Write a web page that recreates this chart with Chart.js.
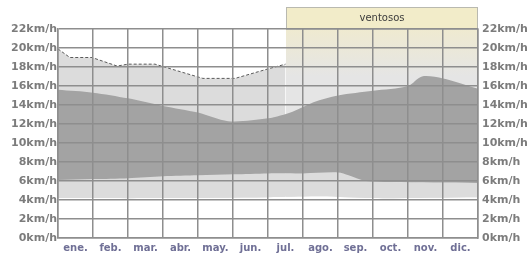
<!DOCTYPE html>
<html>
<head>
  <meta charset="UTF-8">
  <title>Velocidad del viento</title>
  <script src="https://cdn.jsdelivr.net/npm/chart.js"></script>
  <style>
    html, body { margin: 0; padding: 0; background: #fff; }
    #wrap { width: 532px; height: 256px; }
  </style>
</head>
<body>
  <div id="wrap"><canvas id="viento"></canvas></div>

  <script>
    // meses y marcas del eje
    const meses = ['ene.', 'feb.', 'mar.', 'abr.', 'may.', 'jun.', 'jul.', 'ago.', 'sep.', 'oct.', 'nov.', 'dic.'];
    const marcasY = [0, 2, 4, 6, 8, 10, 12, 14, 16, 18, 20, 22];

    // percentil 90 (solo hasta mediados de julio, después empieza la época ventosa)
    const p90 = [
      { x: 0, y: 19.9 }, { x: 0.34, y: 19.0 }, { x: 0.97, y: 19.0 }, { x: 1.69, y: 18.1 },
      { x: 2.0, y: 18.3 }, { x: 2.77, y: 18.3 }, { x: 4.14, y: 16.8 }, { x: 5.06, y: 16.8 },
      { x: 6.0, y: 17.8 }, { x: 6.5, y: 18.3 }
    ];
    // percentil 75
    const p75 = [
      { x: 0, y: 15.6 }, { x: 1, y: 15.3 }, { x: 2, y: 14.7 }, { x: 3, y: 13.9 },
      { x: 4, y: 13.2 }, { x: 4.86, y: 12.3 }, { x: 6, y: 12.6 }, { x: 6.7, y: 13.3 },
      { x: 7.3, y: 14.3 }, { x: 8, y: 15.0 }, { x: 9, y: 15.5 }, { x: 10, y: 16.0 },
      { x: 10.4, y: 17.0 }, { x: 11, y: 16.8 }, { x: 11.3, y: 16.5 }, { x: 12, y: 15.7 }
    ];
    // percentil 25
    const p25 = [
      { x: 0, y: 6.1 }, { x: 1, y: 6.2 }, { x: 2, y: 6.3 }, { x: 3, y: 6.5 },
      { x: 4, y: 6.6 }, { x: 5, y: 6.7 }, { x: 6, y: 6.8 }, { x: 7, y: 6.8 },
      { x: 8, y: 6.9 }, { x: 8.3, y: 6.6 }, { x: 8.8, y: 6.0 }, { x: 9.5, y: 5.9 },
      { x: 12, y: 5.8 }
    ];
    // percentil 10
    const p10 = [
      { x: 0, y: 4.2 }, { x: 3, y: 4.2 }, { x: 6, y: 4.3 }, { x: 7.5, y: 4.4 },
      { x: 9, y: 4.2 }, { x: 12, y: 4.3 }
    ];
    // época ventosa (en meses desde el 1 de enero)
    const ventosoDesde = 6.5;
    const ventosoHasta = 12;

    const colorGris = '#dcdcdc';
    const colorOscuro = '#a3a3a3';
    const colorRejilla = '#8e8e8e';
    const colorTexto = '#7c7c7c';

    // recuadro "ventosos" por detrás de la rejilla
    const recuadroVentoso = {
      id: 'recuadroVentoso',
      beforeDraw(chart) {
        const { ctx, chartArea } = chart;
        const sx = chart.scales.x2;
        const sy = chart.scales.y;
        const x0 = Math.round(sx.getPixelForValue(ventosoDesde));
        const x1 = Math.round(sx.getPixelForValue(ventosoHasta));
        const top = chartArea.top;
        const cab = top - 22;
        ctx.save();
        // relleno del área
        const g = ctx.createLinearGradient(0, top, 0, sy.getPixelForValue(17));
        g.addColorStop(0, '#efead0');
        g.addColorStop(1, '#e5e5e5');
        ctx.fillStyle = g;
        ctx.fillRect(x0, top, x1 - x0, chartArea.bottom - top);
        // cabecera
        ctx.fillStyle = '#f2ecc9';
        ctx.fillRect(x0, cab, x1 - x0, top - cab);
        ctx.strokeStyle = '#b9b9b0';
        ctx.lineWidth = 1;
        ctx.strokeRect(x0 + 0.5, cab + 0.5, x1 - x0 - 1, top - cab);
        ctx.fillStyle = '#3c3c3c';
        ctx.font = '10px "DejaVu Sans"';
        ctx.textAlign = 'center';
        ctx.textBaseline = 'middle';
        ctx.fillText('ventosos', (x0 + x1) / 2, cab + 11);
        ctx.restore();
      }
    };

    const etiquetaY = v => v + 'km/h';

    new Chart(document.getElementById('viento'), {
      type: 'line',
      data: {
        labels: meses,
        datasets: [
          {
            data: p90, xAxisID: 'x2', order: 4,
            fill: 'origin', backgroundColor: colorGris,
            borderColor: '#5a5a5a', borderWidth: 1, borderDash: [3, 2],
            pointRadius: 0, tension: 0
          },
          {
            data: p75, xAxisID: 'x2', order: 1,
            fill: '+1', backgroundColor: colorOscuro,
            borderWidth: 0, pointRadius: 0, tension: 0.3
          },
          {
            data: p25, xAxisID: 'x2', order: 2,
            fill: '+1', backgroundColor: colorGris,
            borderWidth: 0, pointRadius: 0, tension: 0.3
          },
          {
            data: p10, xAxisID: 'x2', order: 3,
            fill: 'origin', backgroundColor: '#ffffff',
            borderWidth: 0, pointRadius: 0, tension: 0.3
          }
        ]
      },
      options: {
        responsive: true,
        maintainAspectRatio: false,
        animation: false,
        layout: { padding: { top: 29, left: 0, right: 0, bottom: 0 } },
        plugins: { legend: { display: false }, tooltip: { enabled: false } },
        scales: {
          x: {
            type: 'category',
            offset: true,
            grid: { offset: true, color: colorRejilla, lineWidth: 1.5, drawTicks: false, z: 1 },
            border: { color: colorRejilla, width: 1.5, z: 1 },
            ticks: {
              color: '#707096', padding: 4,
              font: { family: 'DejaVu Sans', size: 10, weight: 'bold' }
            },
            afterFit(s) { s.height = 18; }
          },
          x2: { type: 'linear', min: 0, max: 12, display: false },
          y: {
            position: 'left', min: 0, max: 22,
            afterBuildTicks(s) { s.ticks = marcasY.map(v => ({ value: v })); },
            grid: { color: colorRejilla, lineWidth: 1.5, drawTicks: false, z: 1 },
            border: { color: colorRejilla, width: 1.5, z: 1 },
            ticks: {
              color: colorTexto, padding: 1,
              font: { family: 'DejaVu Sans', size: 11, weight: 'bold' },
              callback: etiquetaY
            },
            afterFit(s) { s.width = 58; }
          },
          y2: {
            position: 'right', min: 0, max: 22,
            afterBuildTicks(s) { s.ticks = marcasY.map(v => ({ value: v })); },
            grid: { drawOnChartArea: false, drawTicks: false },
            border: { color: colorRejilla, width: 1.5, z: 1 },
            ticks: {
              color: colorTexto, padding: 4,
              font: { family: 'DejaVu Sans', size: 11, weight: 'bold' },
              callback: etiquetaY
            },
            afterFit(s) { s.width = 54; }
          }
        }
      },
      plugins: [recuadroVentoso]
    });
  </script>
</body>
</html>
